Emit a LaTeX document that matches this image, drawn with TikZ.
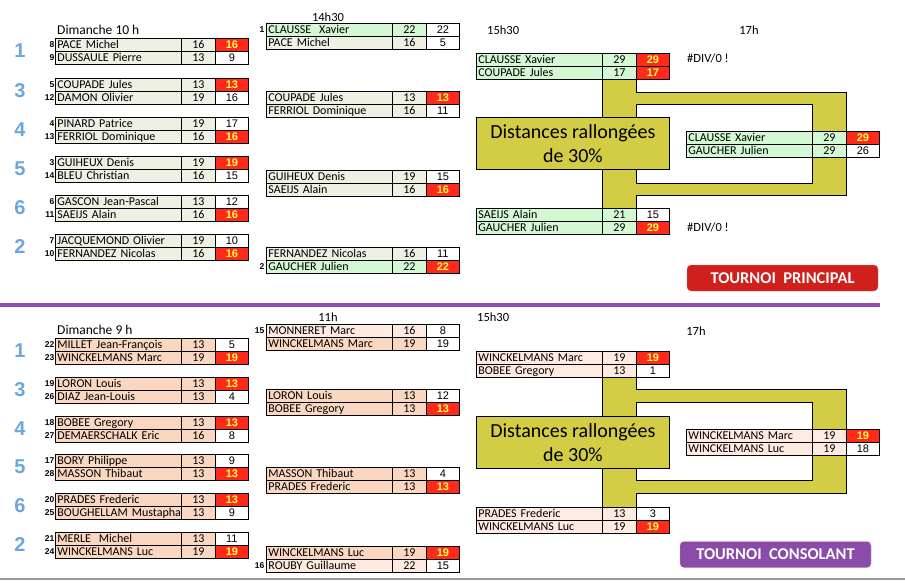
\documentclass[tikz,border=0pt]{standalone}
\usepackage{fontspec}
\setmainfont{Carlito}
\newfontfamily\arialf{Liberation Sans}
\definecolor{greybg}{RGB}{237,240,227}
\definecolor{greenbg}{RGB}{212,247,212}
\definecolor{peach}{RGB}{250,215,192}
\definecolor{lpeach}{RGB}{253,234,224}
\definecolor{redcell}{RGB}{255,42,26}
\definecolor{yeltxt}{RGB}{255,255,80}
\definecolor{lblue}{RGB}{108,166,221}
\definecolor{purpl}{RGB}{141,80,171}
\definecolor{btnred}{RGB}{208,32,27}
\definecolor{btnpur}{RGB}{138,76,169}
\definecolor{olivey}{RGB}{211,205,70}
\newcommand\prow[8]{%
  \node[namec, fill=#4] (#1n) at (#2,#3) {\mbox{#5}};
  \node[sca, fill=#4] (#1a) at (#2+126,#3) {#6};
  \node[scb, #8] (#1b) at (#2+160,#3) {#7};
}
\begin{document}
\begin{tikzpicture}[x=1pt,y=-1pt,
  cellbase/.style={draw=black, line width=0.8pt, minimum height=13pt, text height=9.2pt, text depth=1.8pt, inner ysep=0pt, anchor=north west, font=\fontsize{12}{12}\selectfont},
  namec/.style={cellbase, inner xsep=2pt, minimum width=126pt, text width=122pt, align=left},
  sca/.style={cellbase, inner xsep=0pt, minimum width=34pt, text width=34pt, align=center},
  scb/.style={cellbase, inner xsep=0pt, minimum width=33pt, text width=33pt, align=center, fill=white, font=\arialf\fontsize{11}{12}\selectfont},
  wht/.style={},
  rd/.style={fill=redcell, text=yeltxt, font=\arialf\bfseries\fontsize{11}{12}\selectfont},
  grp/.style={text=lblue, font=\arialf\bfseries\fontsize{20}{20}\selectfont, inner sep=0pt},
  seed/.style={anchor=east, inner sep=0.5pt, font=\arialf\bfseries\fontsize{8.5}{8.5}\selectfont},
  hdr/.style={inner sep=0pt, font=\fontsize{12.5}{13}\selectfont},
  olv/.style={fill=olivey, draw=black, line width=0.8pt},
  dist/.style={olv, anchor=north west, minimum width=193pt, minimum height=52pt, inner sep=0pt, align=center, font=\fontsize{20}{24}\selectfont},
  btn/.style={rounded corners=4pt, minimum width=191pt, minimum height=26pt, text=white, font=\bfseries\fontsize{16.5}{16.5}\selectfont}
]
\useasboundingbox (0,0) rectangle (905,582);

% separators
\draw[purpl, line width=3.5pt] (0,305) -- (880,305);
\draw[black!40, line width=1.5pt] (0,579) -- (905,579);

% ================= TOP =================
\node[hdr, anchor=west, font=\fontsize{13.5}{14}\selectfont] (h1) at (57,30) {Dimanche 10 h};
\node[hdr] (h2) at (328,17) {14h30};
\node[hdr, anchor=west] (h3) at (487,30) {15h30};
\node[hdr] (h4) at (749,30) {17h};
\node[hdr, anchor=west] (dv1) at (687,58) {\#DIV/0 !};
\node[hdr, anchor=west] (dv2) at (687,227) {\#DIV/0 !};

% round 1
\prow{ta1}{55}{38}{greybg}{PACE Michel}{16}{16}{rd}
\prow{ta2}{55}{51}{greybg}{DUSSAULE Pierre}{13}{9}{wht}
\prow{tb1}{55}{78}{greybg}{COUPADE Jules}{13}{13}{rd}
\prow{tb2}{55}{91}{greybg}{DAMON Olivier}{19}{16}{wht}
\prow{tc1}{55}{117}{greybg}{PINARD Patrice}{19}{17}{wht}
\prow{tc2}{55}{130}{greybg}{FERRIOL Dominique}{16}{16}{rd}
\prow{td1}{55}{156}{greybg}{GUIHEUX Denis}{19}{19}{rd}
\prow{td2}{55}{169}{greybg}{BLEU Christian}{16}{15}{wht}
\prow{te1}{55}{195}{greybg}{GASCON Jean-Pascal}{13}{12}{wht}
\prow{te2}{55}{208}{greybg}{SAEIJS Alain}{16}{16}{rd}
\prow{tf1}{55}{234}{greybg}{JACQUEMOND Olivier}{19}{10}{wht}
\prow{tf2}{55}{247}{greybg}{FERNANDEZ Nicolas}{16}{16}{rd}

\node[grp] (tg1) at (20,51) {1};
\node[grp] (tg3) at (20,91) {3};
\node[grp] (tg4) at (20,130) {4};
\node[grp] (tg5) at (20,169) {5};
\node[grp] (tg6) at (20,208) {6};
\node[grp] (tg2) at (20,247) {2};

\node[seed] (ts8) at (55,44.5) {8};
\node[seed] (ts9) at (55,57.5) {9};
\node[seed] (ts5) at (55,84.5) {5};
\node[seed] (ts12) at (55,97.5) {12};
\node[seed] (ts4) at (55,123.5) {4};
\node[seed] (ts13) at (55,136.5) {13};
\node[seed] (ts3) at (55,162.5) {3};
\node[seed] (ts14) at (55,175.5) {14};
\node[seed] (ts6) at (55,201.5) {6};
\node[seed] (ts11) at (55,214.5) {11};
\node[seed] (ts7) at (55,240.5) {7};
\node[seed] (ts10) at (55,253.5) {10};

% round 2
\prow{ua1}{266}{23}{greenbg}{CLAUSSE\ \ Xavier}{22}{22}{wht}
\prow{ua2}{266}{36}{greybg}{PACE Michel}{16}{5}{wht}
\prow{ub1}{266}{91}{greybg}{COUPADE Jules}{13}{13}{rd}
\prow{ub2}{266}{104}{greybg}{FERRIOL Dominique}{16}{11}{wht}
\prow{uc1}{266}{170}{greybg}{GUIHEUX Denis}{19}{15}{wht}
\prow{uc2}{266}{183}{greybg}{SAEIJS Alain}{16}{16}{rd}
\prow{ud1}{266}{247}{greybg}{FERNANDEZ Nicolas}{16}{11}{wht}
\prow{ud2}{266}{260}{greenbg}{GAUCHER Julien}{22}{22}{rd}
\node[seed] (us1) at (265,29.5) {1};
\node[seed] (us2) at (265,266.5) {2};

% olive frame
\filldraw[olv, even odd rule] (602,79) -- (636,79) -- (636,92) -- (846,92) -- (846,195) -- (636,195) -- (636,208) -- (602,208) -- cycle
  (636,104) -- (812,104) -- (812,183) -- (636,183) -- cycle;
\node[dist] (tdist) at (476,117) {Distances rallongées\\de 30\%};

% round 3
\prow{va1}{476}{53}{greenbg}{CLAUSSE Xavier}{29}{29}{rd}
\prow{va2}{476}{66}{greenbg}{COUPADE Jules}{17}{17}{rd}
\prow{vb1}{476}{208}{greenbg}{SAEIJS Alain}{21}{15}{wht}
\prow{vb2}{476}{221}{greenbg}{GAUCHER Julien}{29}{29}{rd}
% final
\prow{wa1}{686}{131}{greenbg}{CLAUSSE Xavier}{29}{29}{rd}
\prow{wa2}{686}{144}{greenbg}{GAUCHER Julien}{29}{26}{wht}

\node[btn, fill=btnred, draw=btnred!60!white] (bp) at (782.5,278) {TOURNOI\ \ PRINCIPAL};

% ================= BOTTOM =================
\node[hdr, anchor=west, font=\fontsize{13.5}{14}\selectfont] (k1) at (57,330) {Dimanche 9 h};
\node[hdr] (k2) at (328,317) {11h};
\node[hdr, anchor=west] (k3) at (477,317) {15h30};
\node[hdr] (k4) at (696,331) {17h};

\prow{ba1}{55}{338}{peach}{MILLET Jean-François}{13}{5}{wht}
\prow{ba2}{55}{351}{peach}{WINCKELMANS Marc}{19}{19}{rd}
\prow{bb1}{55}{377}{peach}{LORON Louis}{13}{13}{rd}
\prow{bb2}{55}{390}{peach}{DIAZ Jean-Louis}{13}{4}{wht}
\prow{bc1}{55}{416}{peach}{BOBEE Gregory}{13}{13}{rd}
\prow{bc2}{55}{429}{peach}{DEMAERSCHALK Eric}{16}{8}{wht}
\prow{bd1}{55}{454}{peach}{BORY Philippe}{13}{9}{wht}
\prow{bd2}{55}{467}{peach}{MASSON Thibaut}{13}{13}{rd}
\prow{be1}{55}{493}{peach}{PRADES Frederic}{13}{13}{rd}
\prow{be2}{55}{506}{peach}{BOUGHELLAM Mustapha}{13}{9}{wht}
\prow{bf1}{55}{532}{peach}{MERLE\ \ Michel}{13}{11}{wht}
\prow{bf2}{55}{545}{peach}{WINCKELMANS Luc}{19}{19}{rd}

\node[grp] (bg1) at (20,351) {1};
\node[grp] (bg3) at (20,390) {3};
\node[grp] (bg4) at (20,429) {4};
\node[grp] (bg5) at (20,467) {5};
\node[grp] (bg6) at (20,506) {6};
\node[grp] (bg2) at (20,545) {2};

\node[seed] (bs22) at (55,344.5) {22};
\node[seed] (bs23) at (55,357.5) {23};
\node[seed] (bs19) at (55,383.5) {19};
\node[seed] (bs26) at (55,396.5) {26};
\node[seed] (bs18) at (55,422.5) {18};
\node[seed] (bs27) at (55,435.5) {27};
\node[seed] (bs17) at (55,460.5) {17};
\node[seed] (bs28) at (55,473.5) {28};
\node[seed] (bs20) at (55,499.5) {20};
\node[seed] (bs25) at (55,512.5) {25};
\node[seed] (bs21) at (55,538.5) {21};
\node[seed] (bs24) at (55,551.5) {24};

% round 2
\prow{ca1}{266}{324}{lpeach}{MONNERET Marc}{16}{8}{wht}
\prow{ca2}{266}{337}{peach}{WINCKELMANS Marc}{19}{19}{wht}
\prow{cb1}{266}{389}{peach}{LORON Louis}{13}{12}{wht}
\prow{cb2}{266}{402}{peach}{BOBEE Gregory}{13}{13}{rd}
\prow{cc1}{266}{467}{peach}{MASSON Thibaut}{13}{4}{wht}
\prow{cc2}{266}{480}{peach}{PRADES Frederic}{13}{13}{rd}
\prow{cd1}{266}{546}{peach}{WINCKELMANS Luc}{19}{19}{rd}
\prow{cd2}{266}{559}{lpeach}{ROUBY Guillaume}{22}{15}{wht}
\node[seed] (cs15) at (265,330.5) {15};
\node[seed] (cs16) at (265,565.5) {16};

\filldraw[olv, even odd rule] (602,377) -- (636,377) -- (636,389) -- (846,389) -- (846,493) -- (636,493) -- (636,507) -- (602,507) -- cycle
  (636,402) -- (812,402) -- (812,480) -- (636,480) -- cycle;
\node[dist] (bdist) at (476,416) {Distances rallongées\\de 30\%};

\prow{da1}{476}{351}{lpeach}{WINCKELMANS Marc}{19}{19}{rd}
\prow{da2}{476}{364}{lpeach}{BOBEE Gregory}{13}{1}{wht}
\prow{db1}{476}{507}{lpeach}{PRADES Frederic}{13}{3}{wht}
\prow{db2}{476}{520}{lpeach}{WINCKELMANS Luc}{19}{19}{rd}
\prow{ea1}{686}{429}{lpeach}{WINCKELMANS Marc}{19}{19}{rd}
\prow{ea2}{686}{442}{lpeach}{WINCKELMANS Luc}{19}{18}{wht}

\node[btn, fill=btnpur, draw=btnpur!60!white] (bc) at (775.5,554.5) {TOURNOI\ \ CONSOLANT};
\end{tikzpicture}
\end{document}
